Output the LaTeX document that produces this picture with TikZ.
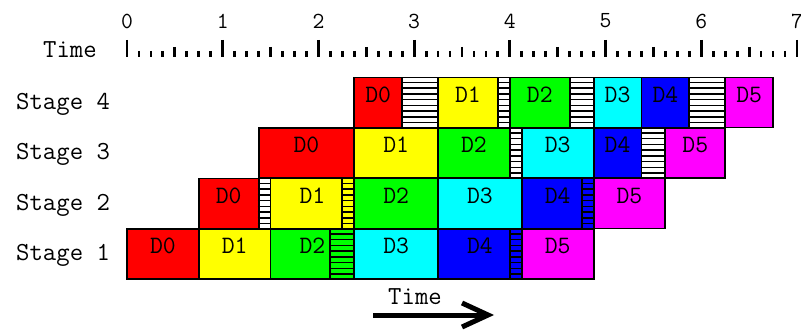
\documentclass[tikz,border=0pt]{standalone}
\usepackage{fontspec}
\usetikzlibrary{arrows.meta,fit,calc}
\definecolor{cR}{RGB}{255,0,0}
\definecolor{cY}{RGB}{255,255,0}
\definecolor{cG}{RGB}{0,255,0}
\definecolor{cC}{RGB}{0,255,255}
\definecolor{cB}{RGB}{0,0,255}
\definecolor{cM}{RGB}{255,0,255}
\def\U{11.964}
\newcommand\pbox[6]{%
  \node[box,fill=#5,fit={({127+\U*#2},#4) ({127+\U*#3},{#4+50})}] (#1) {#6};}
\newcommand\hatchbox[5]{%
  \node[box,fill=#5,fit={({127+\U*#2},#4) ({127+\U*#3},{#4+50})}] (#1) {};
  \foreach \i in {1,...,8}{\draw[stripe] ($(#1.north west)!\i/9!(#1.south west)$) -- ($(#1.north east)!\i/9!(#1.south east)$);}}
\begin{document}
\begin{tikzpicture}[x=1pt,y=-1pt,
  txt/.style={font=\ttfamily\fontsize{26}{30}\selectfont, inner sep=0pt},
  box/.style={draw=black, line width=1.8pt, inner sep=0pt, font=\ttfamily\fontsize{25}{30}\selectfont},
  stripe/.style={line width=1.6pt},
  tick/.style={line width=2.8pt}]
\useasboundingbox[fill=white] (0,0) rectangle (801,331);
% time ruler
\foreach \k in {0,...,56}{
  \pgfmathsetmacro\xx{127+\U*\k}
  \pgfmathtruncatemacro\ma{mod(\k,8)}
  \pgfmathtruncatemacro\mb{mod(\k,4)}
  \ifnum\ma=0 \draw[tick] (\xx,40) -- (\xx,57);
  \else\ifnum\mb=0 \draw[tick] (\xx,47) -- (\xx,57);
  \else \draw[tick] (\xx,51) -- (\xx,57);\fi\fi
}
\foreach \n in {0,...,7}{
  \node[txt, font=\ttfamily\fontsize{23}{26}\selectfont] (num\n) at ({127+\U*8*\n},21) {\n};
}
\node[txt, anchor=base west] (timetop) at (43,58) {Time};
% stage labels
\node[txt, anchor=base west] (lab4) at (16,109.5) {Stage 4};
\node[txt, anchor=base west] (lab3) at (16,160) {Stage 3};
\node[txt, anchor=base west] (lab2) at (16,210.5) {Stage 2};
\node[txt, anchor=base west] (lab1) at (16,261) {Stage 1};
% Stage 1
\pbox{s1d0}{0}{6}{229}{cR}{D0}
\pbox{s1d1}{6}{12}{229}{cY}{D1}
\pbox{s1d2}{12}{19}{229}{cG}{D2}
\hatchbox{s1h2}{17}{19}{229}{none}
\pbox{s1d3}{19}{26}{229}{cC}{D3}
\pbox{s1d4}{26}{33}{229}{cB}{D4}
\hatchbox{s1h4}{32}{33}{229}{none}
\pbox{s1d5}{33}{39}{229}{cM}{D5}
% Stage 2
\pbox{s2d0}{6}{11}{178.5}{cR}{D0}
\hatchbox{s2h0}{11}{12}{178.5}{white}
\pbox{s2d1}{12}{19}{178.5}{cY}{D1}
\hatchbox{s2h1}{18}{19}{178.5}{none}
\pbox{s2d2}{19}{26}{178.5}{cG}{D2}
\pbox{s2d3}{26}{33}{178.5}{cC}{D3}
\pbox{s2d4}{33}{39}{178.5}{cB}{D4}
\hatchbox{s2h4}{38}{39}{178.5}{none}
\pbox{s2d5}{39}{45}{178.5}{cM}{D5}
% Stage 3
\pbox{s3d0}{11}{19}{128}{cR}{D0}
\pbox{s3d1}{19}{26}{128}{cY}{D1}
\pbox{s3d2}{26}{32}{128}{cG}{D2}
\hatchbox{s3h2}{32}{33}{128}{white}
\pbox{s3d3}{33}{39}{128}{cC}{D3}
\pbox{s3d4}{39}{43}{128}{cB}{D4}
\hatchbox{s3h4}{43}{45}{128}{white}
\pbox{s3d5}{45}{50}{128}{cM}{D5}
% Stage 4
\pbox{s4d0}{19}{23}{77.5}{cR}{D0}
\hatchbox{s4h0}{23}{26}{77.5}{white}
\pbox{s4d1}{26}{31}{77.5}{cY}{D1}
\hatchbox{s4h1}{31}{32}{77.5}{white}
\pbox{s4d2}{32}{37}{77.5}{cG}{D2}
\hatchbox{s4h2}{37}{39}{77.5}{white}
\pbox{s4d3}{39}{43}{77.5}{cC}{D3}
\pbox{s4d4}{43}{47}{77.5}{cB}{D4}
\hatchbox{s4h4}{47}{50}{77.5}{white}
\pbox{s4d5}{50}{54}{77.5}{cM}{D5}
% bottom arrow
\node[txt, anchor=base] (timebot) at (415,305) {Time};
\coordinate (ta) at (373,315);
\coordinate (tb) at (494,315);
\draw[line width=5pt, -{Straight Barb[length=26pt, width=24pt, line width=5pt]}] (ta) -- (tb);
\end{tikzpicture}
\end{document}
